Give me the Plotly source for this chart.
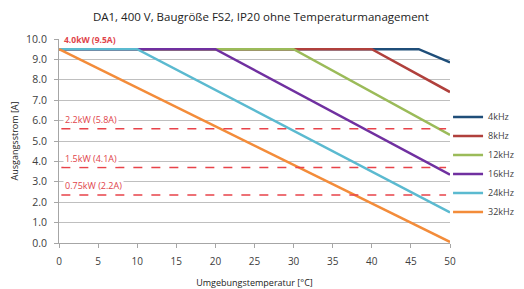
import plotly.graph_objects as go

title = "DA1, 400 V, Baugröße FS2, IP20 ohne Temperaturmanagement"
x_title = "Umgebungstemperatur [°C]"
y_title = "Ausgangsstrom [A]"

series_names = ["4kHz", "8kHz", "12kHz", "16kHz", "24kHz", "32kHz"]
series_x = [
    [0, 46, 50],
    [0, 40, 50],
    [0, 30, 50],
    [0, 20, 50],
    [0, 10, 50],
    [0, 50],
]
series_y = [
    [9.5, 9.5, 8.85],
    [9.5, 9.5, 7.4],
    [9.5, 9.5, 5.3],
    [9.5, 9.5, 3.35],
    [9.5, 9.5, 1.5],
    [9.5, 0.05],
]
colors = ["#1F4E79", "#B0403C", "#9BBB59", "#7030A0", "#5BBAD0", "#F38C3A"]

limit_labels = ["2.2kW (5.8A)", "1.5kW (4.1A)", "0.75kW (2.2A)"]
limit_values = [5.6, 3.7, 2.35]
top_label = "4.0kW (9.5A)"
top_value = 9.5

x_ticks = list(range(0, 51, 5))
y_ticks = [i * 1.0 for i in range(0, 11)]

fig = go.Figure()
for name, xs, ys, c in zip(series_names, series_x, series_y, colors):
    fig.add_trace(go.Scatter(x=xs, y=ys, mode="lines", name=name,
                             line=dict(color=c, width=2.5)))

for lab, v in zip(limit_labels, limit_values):
    fig.add_shape(type="line", xref="x", yref="y", x0=0.3, x1=49.5, y0=v, y1=v,
                  line=dict(color="#E8434A", width=1.5, dash="dash"))
    fig.add_annotation(x=0.5, y=v, xref="x", yref="y", text=lab, showarrow=False,
                       xanchor="left", yanchor="bottom", yshift=1,
                       font=dict(size=9, color="#E0434A"), bgcolor="white")

fig.add_annotation(x=0.4, y=10.0, xref="x", yref="y", text="<b>" + top_label + "</b>",
                   showarrow=False, xanchor="left", yanchor="middle",
                   font=dict(size=8.5, color="#E0434A"), bgcolor="white")

# page has an 8px body margin: the figure is sized and placed to compensate
fig.update_layout(
    width=516, height=281,
    margin=dict(l=51, r=74, t=31, b=46, autoexpand=False),
    paper_bgcolor="white", plot_bgcolor="white",
    font=dict(family="Open Sans, Liberation Sans, sans-serif", color="#404040"),
    title=dict(text=title, x=0.49, xanchor="center", y=0.968, yanchor="middle",
               font=dict(size=11.5, color="#222222")),
    showlegend=True,
    legend=dict(x=0.995, y=0.385, xanchor="left", yanchor="middle",
                font=dict(size=9, color="#404040"), tracegroupgap=0,
                itemwidth=30, bgcolor="rgba(0,0,0,0)"),
    xaxis=dict(range=[0, 50], tickvals=x_ticks, showgrid=False, zeroline=False,
               automargin=False,
               showline=True, linecolor="#A6A6A6", ticks="outside", ticklen=4,
               tickcolor="#A6A6A6", tickfont=dict(size=10, color="#404040"),
               ticklabelstandoff=5,
               title=dict(text=x_title, font=dict(size=9, color="#222222"), standoff=14)),
    yaxis=dict(range=[0, 10], tickvals=y_ticks, tickformat=".1f", showgrid=True,
               automargin=False,
               gridcolor="#BFBFBF", gridwidth=1, zeroline=False,
               showline=True, linecolor="#A6A6A6",
               ticks="outside", ticklen=4, tickcolor="#A6A6A6",
               ticklabelstandoff=5,
               tickfont=dict(size=10.5, color="#404040"),
               title=dict(text=y_title, font=dict(size=9, color="#222222"), standoff=12)),
)

fig.write_html("out.html")
